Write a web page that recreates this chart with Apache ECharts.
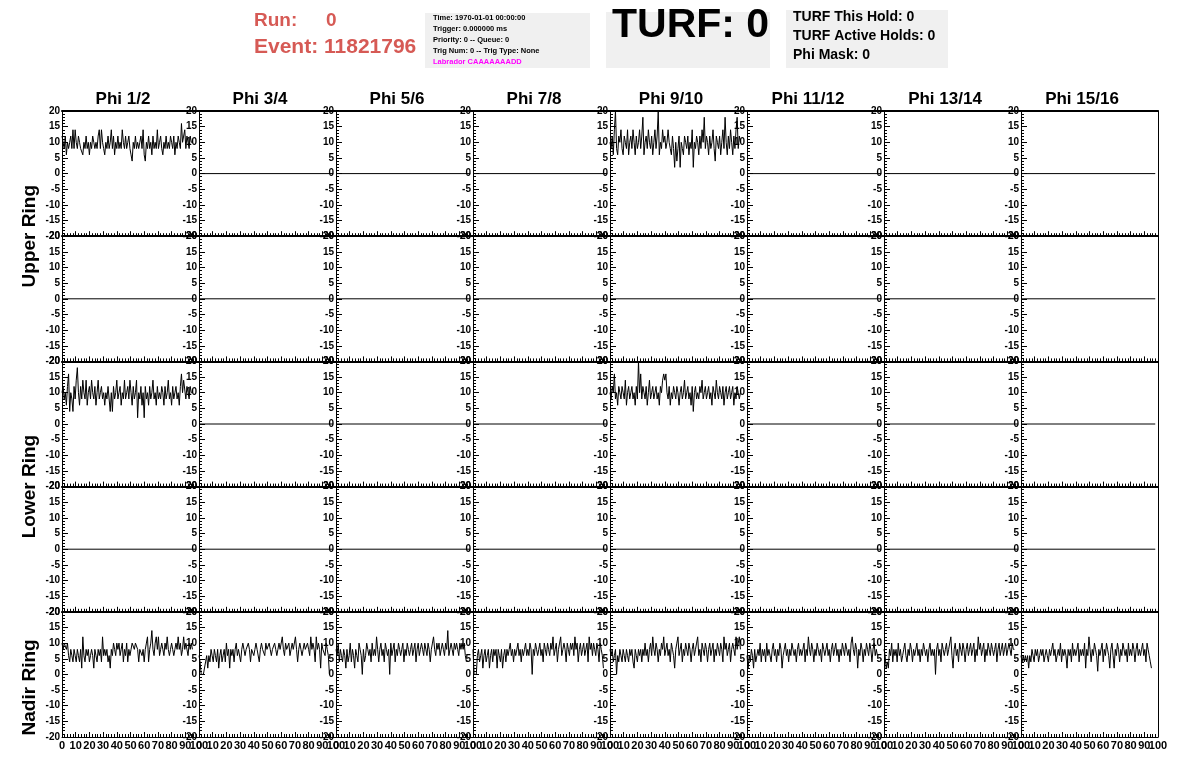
<!DOCTYPE html>
<html><head><meta charset="utf-8">
<script src="https://cdn.jsdelivr.net/npm/echarts@6/dist/echarts.min.js"></script>
<style>html,body{margin:0;padding:0;background:#fff}#c{width:1196px;height:772px}</style>
</head><body><div id="c"></div><script>
// ---------------- data ----------------
const phiLabels = ['Phi 1/2','Phi 3/4','Phi 5/6','Phi 7/8','Phi 9/10','Phi 11/12','Phi 13/14','Phi 15/16'];
const ringLabels = ['Upper Ring','Lower Ring','Nadir Ring'];
const runNumber = '0';
const eventNumber = '11821796';
const infoLines = ['Time: 1970-01-01 00:00:00','Trigger: 0.000000 ms','Priority: 0 -- Queue: 0','Trig Num: 0 -- Trig Type: None'];
const labradorLine = 'Labrador CAAAAAAADD';
const turfValue = 'TURF: 0';
const turfLines = ['TURF This Hold: 0','TURF Active Holds: 0','Phi Mask: 0'];

const sampleStep = 0.8;          // x spacing of waveform samples
const flatX = [0, 98];           // empty channel trace
const flatY = [0, 0];

// Upper ring, row A, Phi 1/2
const upperPhi12 = [12,10,8,12,6,10,8,10,12,8, 14,8,14,10,8,12,10,8,8,6, 10,8,12,8,10,6,10,8,12,10,
 8,10,8,12,14,8,14,10,8,6, 10,8,12,8,10,14,8,12,6,10, 8,12,8,10,8,14,10,8,12,8,
 10,12,8,6,4,10,8,12,8,10, 8,10,12,8,14,6,4,10,8,12, 8,10,6,12,8,10,8,14,8,10,
 12,8,6,10,8,12,8,10,8,12, 10,8,12,6,10,8,12,10,8,16, 10,12,14,8,12,10,8,12,10,10];
// Upper ring, row A, Phi 9/10
const upperPhi910 = [10,8,12,6,14,20,8,6,12,10, 14,8,6,12,10,8,14,6,10,12, 8,14,10,6,12,8,10,14,8,12,
 18,6,10,12,8,14,10,8,12,6, 10,14,8,12,20,6,10,8,14,10, 12,8,10,14,10,8,6,12,8,2,
 10,4,8,12,2,10,8,6,12,10, 8,12,6,10,8,14,2,10,8,12, 10,6,12,8,14,10,18,8,12,10,
 6,12,8,10,14,8,4,12,10,8, 12,6,10,14,8,18,10,6,12,8, 14,10,6,12,8,14,18,8,12,10];
// Lower ring, row A, Phi 1/2
const lowerPhi12 = [10,12,8,10,6,12,16,4,10,8, 4,12,8,14,18,10,6,12,8,14, 10,8,14,6,10,12,8,14,10,8,
 12,6,10,14,8,10,12,8,10,6, 10,8,12,8,4,10,4,12,8,10, 14,8,10,12,6,10,8,14,8,10,
 12,8,14,10,6,12,8,10,14,2, 10,8,12,6,10,2,12,8,10,6, 12,8,10,14,8,10,6,12,8,10,
 8,12,10,6,12,8,10,14,8,10, 6,12,8,10,12,8,10,6,12,16, 10,14,14,8,12,10,8,12,10,10];
// Lower ring, row A, Phi 9/10
const lowerPhi910 = [10,8,12,10,16,8,10,6,12,10, 8,12,10,8,14,6,10,12,8,10, 12,8,10,6,12,8,20,10,16,8,
 12,10,8,12,6,10,14,8,10,12, 8,10,12,8,10,6,12,10,14,16, 14,16,10,8,12,6,10,8,12,10,
 8,12,10,6,10,12,8,10,14,8, 10,12,8,10,6,12,4,10,12,8, 10,8,12,10,14,8,10,12,8,10,
 12,8,10,6,12,10,8,14,10,8, 12,10,8,12,6,10,12,8,10,12, 8,10,12,6,10,8,12,10,8,10];
// Nadir ring, Phi 1/2 ... 15/16
const nadir1 = [10,8,10,10,8,10,6,4,8,6, 4,8,6,4,8,6,4,8,2,12, 6,4,8,6,8,4,6,8,6,2,
 8,6,4,8,6,8,4,12,6,8, 6,8,4,6,2,8,6,10,8,6, 10,8,10,6,8,10,4,8,6,10,
 4,8,6,8,10,10,8,10,10,8, 4,8,8,6,8,4,8,10,12,4, 8,10,14,8,6,10,12,8,12,6,
 8,10,8,6,10,8,12,8,6,8, 10,8,6,8,10,8,12,8,10,6, 8,12,8,10,8,6,10,8,10,8];
const nadir2 = [6,4,0,0,0,0,4,6,2,6, 4,8,6,4,8,6,4,8,2,6, 8,4,6,8,4,10,6,8,2,8,
 6,8,4,8,10,6,8,8,4,8, 10,8,6,8,8,10,8,4,8,8, 6,8,10,8,8,4,8,10,8,8,
 6,10,8,8,10,8,6,8,8,10, 8,6,8,10,8,8,12,8,6,10, 8,8,10,6,8,10,8,8,12,8,
 4,8,10,8,6,8,10,8,8,10, 8,6,12,8,10,8,4,12,8,10, 8,2,10,8,8,6,10,8,6,0];
const nadir3 = [8,6,10,4,8,6,4,8,6,2, 8,4,6,10,4,8,6,2,8,6, 4,10,8,6,0,8,4,6,10,8,
 6,8,4,10,6,8,6,12,8,4, 8,10,6,8,4,10,8,6,8,0, 10,6,8,10,4,8,6,10,8,6,
 8,10,4,8,6,10,8,6,8,10, 6,8,10,4,8,10,6,8,10,8, 6,10,8,6,10,8,4,8,10,12,
 8,6,10,8,10,6,8,10,8,6, 10,8,14,6,8,10,8,6,10,8, 10,8,6,10,8,10,8,10,6,4];
const nadir4 = [8,0,0,0,6,8,4,6,8,2, 6,8,4,6,8,2,6,8,4,8, 6,8,2,8,6,4,8,2,6,8,
 4,8,6,8,10,6,8,4,8,6, 8,10,6,8,4,8,6,8,10,6, 8,6,10,8,0,8,6,10,8,6,
 8,10,6,8,4,10,8,6,10,8, 6,10,8,12,6,8,10,4,8,10, 12,6,8,10,8,4,10,8,6,10,
 8,10,6,12,8,10,4,8,10,6, 8,10,6,8,10,4,12,8,10,6, 10,8,6,10,8,4,10,8,6,2];
const nadir5 = [8,6,8,4,6,8,0,6,4,8, 6,4,8,6,4,8,6,4,8,6, 8,4,2,8,6,4,8,6,8,4,
 8,6,10,6,8,4,8,10,6,12, 8,6,10,8,4,8,6,10,8,12, 6,8,10,6,8,4,10,8,6,2,
 8,10,12,6,8,10,4,8,6,10, 8,6,10,8,4,8,10,6,8,10, 12,6,8,4,10,8,6,10,8,4,
 8,10,6,8,10,4,8,6,10,8, 6,10,8,4,12,8,10,6,8,10, 4,8,10,8,6,12,8,10,12,8];
const nadir6 = [6,2,6,4,8,6,2,8,4,6, 8,6,10,4,8,6,8,4,10,6, 8,6,4,8,10,6,8,4,8,6,
 10,8,2,6,8,10,6,8,4,8, 6,10,8,6,8,4,8,10,6,8, 6,8,10,4,8,6,12,8,6,10,
 8,4,8,6,10,8,6,8,4,10, 8,6,8,10,6,8,4,8,10,6, 8,10,6,8,4,8,6,10,8,6,
 10,8,6,8,4,10,12,8,6,10, 8,2,8,6,10,8,4,8,6,10, 8,6,10,8,4,8,10,6,8,6];
const nadir7 = [8,6,2,4,2,8,6,10,4,8, 6,8,4,10,6,8,4,6,8,10, 6,4,8,6,10,8,4,8,6,8,
 10,6,8,4,8,6,10,8,6,8, 4,8,10,6,8,6,8,0,8,10, 6,8,4,10,8,6,8,10,6,8,
 8,12,6,2,8,10,6,8,4,10, 8,6,10,8,4,8,10,6,8,10, 6,8,10,4,8,6,12,8,10,6,
 8,10,4,8,6,10,8,6,10,8, 6,8,10,4,8,10,6,8,10,6, 8,10,6,8,10,8,6,10,8,8];
const nadir8 = [6,4,6,4,6,4,6,2,6,4, 8,6,4,8,6,8,4,6,8,6, 8,4,6,8,6,4,8,6,8,10,
 6,8,4,6,8,6,10,4,8,6, 8,6,2,8,6,8,4,10,6,8, 6,8,10,4,8,6,8,6,10,2,
 8,6,12,8,4,8,6,10,8,6, 1,8,6,8,10,4,8,6,10,8, 6,2,8,10,6,2,8,6,10,8,
 4,8,6,10,8,6,8,4,10,6, 8,6,10,8,4,8,10,6,8,6, 8,10,6,8,4,10,8,6,4,2];

const xTickLabels = [0,10,20,30,40,50,60,70,80,90,100];
const yTickLabels = [-20,-15,-10,-5,0,5,10,15,20];

// which waveform goes in which panel [row][col]; null = empty channel
const panelTraces = [
  [upperPhi12,null,null,null,upperPhi910,null,null,null],
  [null,null,null,null,null,null,null,null],
  [lowerPhi12,null,null,null,lowerPhi910,null,null,null],
  [null,null,null,null,null,null,null,null],
  [nadir1,nadir2,nadir3,nadir4,nadir5,nadir6,nadir7,nadir8]
];

// ---------------- layout ----------------
const FONT = '"Liberation Sans", Arial, Helvetica, sans-serif';
const L0 = 62, PW = 137, T0 = 111, PH = 125.2;
const NR = 5, NC = 8;
const X_MIN = xTickLabels[0], X_MAX = xTickLabels[xTickLabels.length - 1];

const grids = [], xAxes = [], yAxes = [], series = [];
for (let r = 0; r < NR; r++) {
  for (let c = 0; c < NC; c++) {
    const gi = r * NC + c;
    grids.push({left: L0 + c * PW, top: T0 + r * PH, width: PW, height: PH});
    const xIdx = xAxes.length;
    xAxes.push({
      gridIndex: gi, type: 'value', position: 'bottom',
      min: X_MIN, max: X_MAX, interval: 10,
      axisLine: {show: true, onZero: false, lineStyle: {color: '#000', width: 1}},
      axisTick: {show: true, inside: true, length: 5, lineStyle: {color: '#000'}},
      minorTick: {show: true, splitNumber: 5, length: 3, lineStyle: {color: '#000'}},
      splitLine: {show: false},
      axisLabel: {show: r === NR - 1, fontSize: 11, fontWeight: 'bold', color: '#000', margin: 3, fontFamily: FONT}
    });
    xAxes.push({
      gridIndex: gi, type: 'value', position: 'top', min: X_MIN, max: X_MAX,
      axisLine: {show: true, onZero: false, lineStyle: {color: '#000', width: 2}},
      axisTick: {show: false}, axisLabel: {show: false}, splitLine: {show: false}
    });
    if (r === NR - 1) {
      // separate label layer for the end value (100), overlapping the next panel like the original
      xAxes.push({
        gridIndex: gi, type: 'value', position: 'bottom', min: X_MIN, max: X_MAX, interval: 10,
        axisLine: {show: false}, axisTick: {show: false}, splitLine: {show: false},
        axisLabel: {show: true, showMinLabel: false, showMaxLabel: true,
          formatter: v => (v === X_MAX ? String(v) : ''),
          fontSize: 11, fontWeight: 'bold', color: '#000', margin: 3, fontFamily: FONT}
      });
    }
    const yIdx = yAxes.length;
    yAxes.push({
      gridIndex: gi, type: 'value', position: 'left',
      min: yTickLabels[0], max: yTickLabels[yTickLabels.length - 1], interval: 5,
      axisLine: {show: true, onZero: false, lineStyle: {color: '#000', width: 1}},
      axisTick: {show: true, inside: true, length: 6, lineStyle: {color: '#000'}},
      minorTick: {show: true, splitNumber: 5, length: 3, lineStyle: {color: '#000'}},
      splitLine: {show: false},
      axisLabel: {showMinLabel: true, showMaxLabel: true, hideOverlap: false,
        fontSize: 10, fontWeight: 'bold', color: '#000', margin: 2, fontFamily: FONT}
    });
    if (c === NC - 1) {
      yAxes.push({
        gridIndex: gi, type: 'value', position: 'right', min: -20, max: 20,
        axisLine: {show: true, onZero: false, lineStyle: {color: '#000', width: 1}},
        axisTick: {show: false}, axisLabel: {show: false}, splitLine: {show: false}
      });
    }
    const tr = panelTraces[r][c];
    let data;
    if (tr) data = tr.map((v, i) => [i * sampleStep, v]);
    else data = flatX.map((x, i) => [x, flatY[i]]);
    series.push({
      type: 'line', xAxisIndex: xIdx, yAxisIndex: yIdx, data: data,
      showSymbol: false, symbol: 'none', silent: true, animation: false,
      lineStyle: {color: '#000', width: 1}, clip: true
    });
  }
}

const graphic = [];
// header
const red = '#d65a55';
graphic.push({type: 'text', left: 254, top: 11, style: {text: 'Run:', fill: red, font: 'bold 19px ' + FONT}});
graphic.push({type: 'text', left: 326, top: 11, style: {text: runNumber, fill: red, font: 'bold 19px ' + FONT}});
graphic.push({type: 'text', left: 254, top: 37, style: {text: 'Event: ' + eventNumber, fill: red, font: 'bold 21px ' + FONT}});
graphic.push({type: 'rect', shape: {x: 425, y: 13, width: 165, height: 55}, style: {fill: '#f0f0f0'}});
infoLines.forEach((t, i) => {
  graphic.push({type: 'text', x: 433, y: 18 + i * 11, style: {text: t, fill: '#000', font: 'bold 7.5px ' + FONT, verticalAlign: 'middle'}});
});
graphic.push({type: 'text', x: 433, y: 62, style: {text: labradorLine, fill: '#ff00ff', font: 'bold 7.5px ' + FONT, verticalAlign: 'middle'}});
graphic.push({type: 'rect', shape: {x: 606, y: 12, width: 164, height: 56}, style: {fill: '#f0f0f0'}});
graphic.push({type: 'text', x: 612, y: 26, style: {text: turfValue, fill: '#000', font: 'bold 41px ' + FONT, verticalAlign: 'middle'}});
graphic.push({type: 'rect', shape: {x: 786, y: 10, width: 162, height: 58}, style: {fill: '#f0f0f0'}});
turfLines.forEach((t, i) => {
  graphic.push({type: 'text', x: 793, y: 17 + i * 19, style: {text: t, fill: '#000', font: 'bold 14px ' + FONT, verticalAlign: 'middle'}});
});
// column titles
phiLabels.forEach((t, c) => {
  graphic.push({type: 'text', x: L0 + c * PW + 61, y: 99, style: {text: t, fill: '#000', font: 'bold 17px ' + FONT, align: 'center', verticalAlign: 'middle'}});
});
// ring labels
const ringCenters = [T0 + PH, T0 + 3 * PH, T0 + 4.5 * PH + 13];
ringLabels.forEach((t, i) => {
  graphic.push({type: 'text', x: 30, y: ringCenters[i], rotation: Math.PI / 2,
    style: {text: t, fill: '#000', font: 'bold 19px ' + FONT, align: 'center', verticalAlign: 'middle'}});
});

const chart = echarts.init(document.getElementById('c'), null, {renderer: 'canvas'});
chart.setOption({
  animation: false,
  backgroundColor: '#fff',
  grid: grids, xAxis: xAxes, yAxis: yAxes, series: series, graphic: graphic
});
</script></body></html>
